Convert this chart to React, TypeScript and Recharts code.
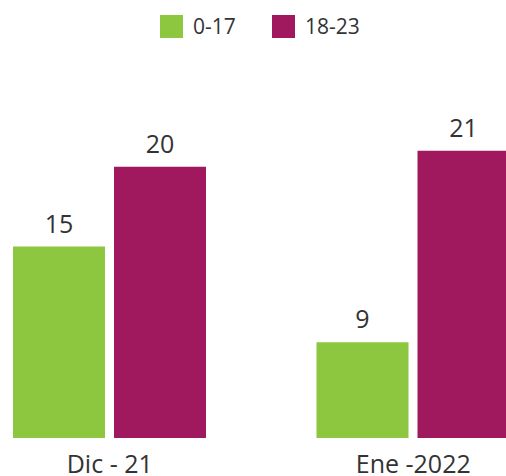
import React from "react";
import { BarChart, Bar, XAxis, YAxis, Legend, LabelList } from "recharts";

const categories = ["Dic - 21", "Ene -2022"];
const series017 = [15, 9];
const series1823 = [20, 21];
const seriesNames = ["0-17", "18-23"];
const colors = ["#8DC63F", "#A0195E"];

const data = categories.map((c, i) => ({
  name: c,
  a: series017[i],
  b: series1823[i],
}));

const FONT = "'Open Sans', sans-serif";
const SHIFT = -50;

const LegendContent = () => (
  <div style={{ position: "relative", height: 40, fontFamily: FONT }}>
    {seriesNames.map((n, i) => (
      <div
        key={n}
        style={{
          position: "absolute",
          left: (i === 0 ? 160 : 272) - SHIFT,
          top: 15,
          display: "flex",
          alignItems: "center",
        }}
      >
        <div style={{ width: 23, height: 23, background: colors[i] }} />
        <span style={{ marginLeft: 10, fontSize: 21, color: "#333", lineHeight: "23px" }}>{n}</span>
      </div>
    ))}
  </div>
);

export default function App() {
  return (
    <div style={{ position: "absolute", left: 0, top: 0, width: 506, height: 476, overflow: "hidden", background: "#fff" }}>
      <div style={{ position: "absolute", left: SHIFT, top: 0 }}>
        <BarChart
          width={620}
          height={476}
          data={data}
          margin={{ top: 63, right: 5, bottom: 0, left: 8 }}
          barSize={92}
          barGap={9}
        >
          <XAxis
            dataKey="name"
            axisLine={false}
            tickLine={false}
            height={38}
            tickMargin={11}
            tick={{ fontSize: 25, fill: "#333", fontFamily: FONT }}
            interval={0}
          />
          <YAxis hide domain={[3, 24]} allowDataOverflow />
          <Legend
            verticalAlign="top"
            content={<LegendContent />}
            wrapperStyle={{ position: "absolute", top: 0, left: 0, width: 620, height: 40 }}
          />
          <Bar dataKey="a" name={seriesNames[0]} fill={colors[0]} isAnimationActive={false}>
            <LabelList dataKey="a" position="top" offset={14} style={{ fontSize: 25, fill: "#333", fontFamily: FONT }} />
          </Bar>
          <Bar dataKey="b" name={seriesNames[1]} fill={colors[1]} isAnimationActive={false}>
            <LabelList dataKey="b" position="top" offset={14} style={{ fontSize: 25, fill: "#333", fontFamily: FONT }} />
          </Bar>
        </BarChart>
      </div>
    </div>
  );
}
